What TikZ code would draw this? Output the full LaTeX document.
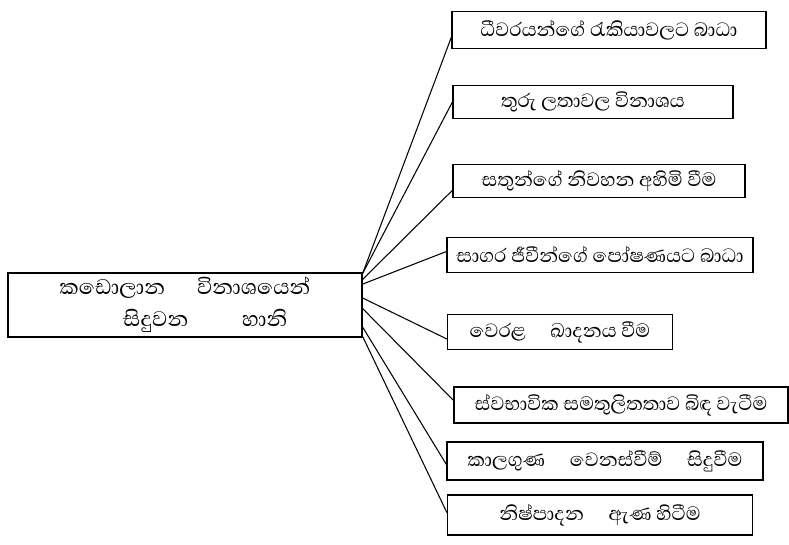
\documentclass[tikz,border=0pt]{standalone}
\usepackage{fontspec}
\newfontfamily\sinhala[Script=Sinhala]{Abhaya Libre}

\begin{document}
\begin{tikzpicture}[x=0.03cm,y=-0.03cm]
\useasboundingbox (0,0) rectangle (789,545);
\tikzset{BoxStyle/.style = 
	{shape = rectangle,
		%	rounded corners = 2pt,
		font = \sinhala\fontsize{21}{24}\selectfont,
		inner sep = 1pt,
		color = black,
		line width = 1pt,
		draw},
	EdgeStyle/.style = {line width = 0.9pt}}

\node[BoxStyle, font=\sinhala\fontsize{23}{27}\selectfont, minimum width=354*0.03cm, minimum height=64*0.03cm, align=center] (Hani) at (185,305)
	{කඩොලාන\quad\ විනාශයෙන්\\\hspace{1.5em}සිදුවන\qquad හානි};
\node[BoxStyle, minimum width=314*0.03cm, minimum height=37*0.03cm] (Dheevara) at (609,30) {ධීවරයන්ගේ රැකියාවලට බාධා};
\node[BoxStyle, minimum width=280*0.03cm, minimum height=33*0.03cm] (Thuru) at (593,102) {තුරු ලතාවල විනාශය};
\node[BoxStyle, minimum width=292*0.03cm, minimum height=33*0.03cm] (Sathun) at (599,181) {සතුන්ගේ නිවහන අහිමි වීම};
\node[BoxStyle, minimum width=306*0.03cm, minimum height=35*0.03cm] (Sagara) at (600,255) {සාගර ජීවීන්ගේ පෝෂණයට බාධා};
\node[BoxStyle, minimum width=225*0.03cm, minimum height=35*0.03cm] (Verala) at (560,332) {වෙරළ\quad ඛාදනය වීම};
\node[BoxStyle, minimum width=334*0.03cm, minimum height=36*0.03cm] (Swabha) at (621,405) {ස්වභාවික සමතුලිතතාව බිඳ වැටීම};
\node[BoxStyle, minimum width=316*0.03cm, minimum height=38*0.03cm] (Kala) at (605,461) {කාලගුණ\quad වෙනස්වීම්\quad සිදුවීම};
\node[BoxStyle, minimum width=305*0.03cm, minimum height=40*0.03cm] (Nish) at (600,515) {නිෂ්පාදන\quad ඇණ හිටීම\hspace{2em}};

% start points on the right side of the main box
\coordinate (s1) at ([yshift=-1pt]Hani.north east);
\coordinate (s2) at ([yshift=-6pt]Hani.north east);
\coordinate (s3) at ([yshift=-10pt]Hani.north east);
\coordinate (s4) at ([yshift=6pt]Hani.east);
\coordinate (s5) at ([yshift=-3pt]Hani.east);
\coordinate (s6) at ([yshift=9pt]Hani.south east);
\coordinate (s7) at ([yshift=1pt]Hani.south east);

\draw[EdgeStyle] (s1) -- ([yshift=-6pt]Dheevara.west);
\draw[EdgeStyle] (s1) -- (Thuru.west);
\draw[EdgeStyle] (s2) -- ([yshift=-8pt]Sathun.west);
\draw[EdgeStyle] (s3) -- ([yshift=3pt]Sagara.west);
\draw[EdgeStyle] (s4) -- ([yshift=-6pt]Verala.west);
\draw[EdgeStyle] (s5) -- ([yshift=4pt]Swabha.west);
\draw[EdgeStyle] (s6) -- ([yshift=-3pt]Kala.west);
\draw[EdgeStyle] (s7) -- ([yshift=2pt]Nish.west);
\end{tikzpicture}
\end{document}
